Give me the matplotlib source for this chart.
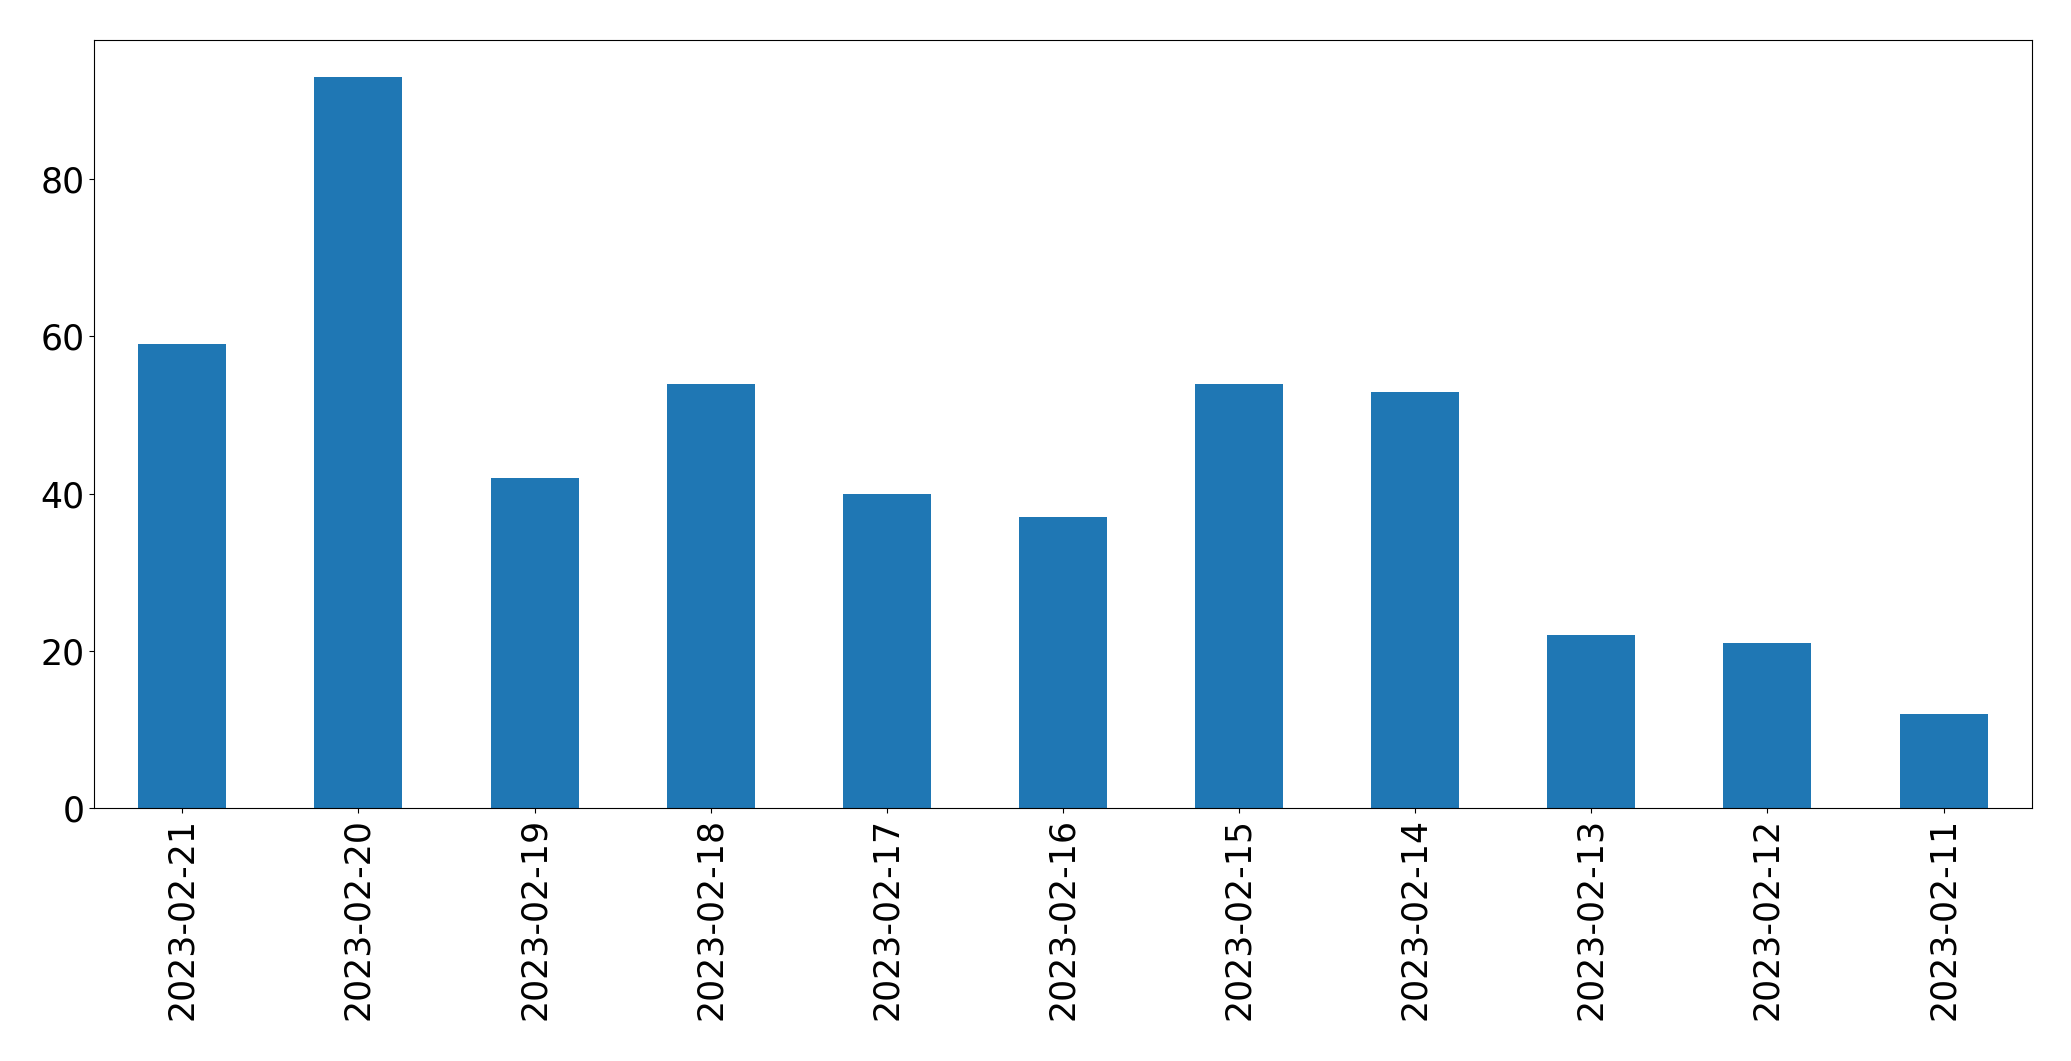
import matplotlib
matplotlib.use("Agg")
import matplotlib.pyplot as plt
import pandas as pd

dates = ['2023-02-21', '2023-02-20', '2023-02-19', '2023-02-18', '2023-02-17',
         '2023-02-16', '2023-02-15', '2023-02-14', '2023-02-13', '2023-02-12',
         '2023-02-11']
counts = [59, 93, 42, 54, 40, 37, 54, 53, 22, 21, 12]

s = pd.Series(counts, index=dates)

fig = plt.figure(figsize=(20.71, 10.61), dpi=100)
ax = fig.add_subplot(111)
s.plot(kind='bar', ax=ax, color='#1f77b4')
ax.tick_params(axis='both', labelsize=25)
fig.subplots_adjust(left=0.0455, right=0.981, top=0.962, bottom=0.238)
fig.savefig('out.png', dpi=100)
